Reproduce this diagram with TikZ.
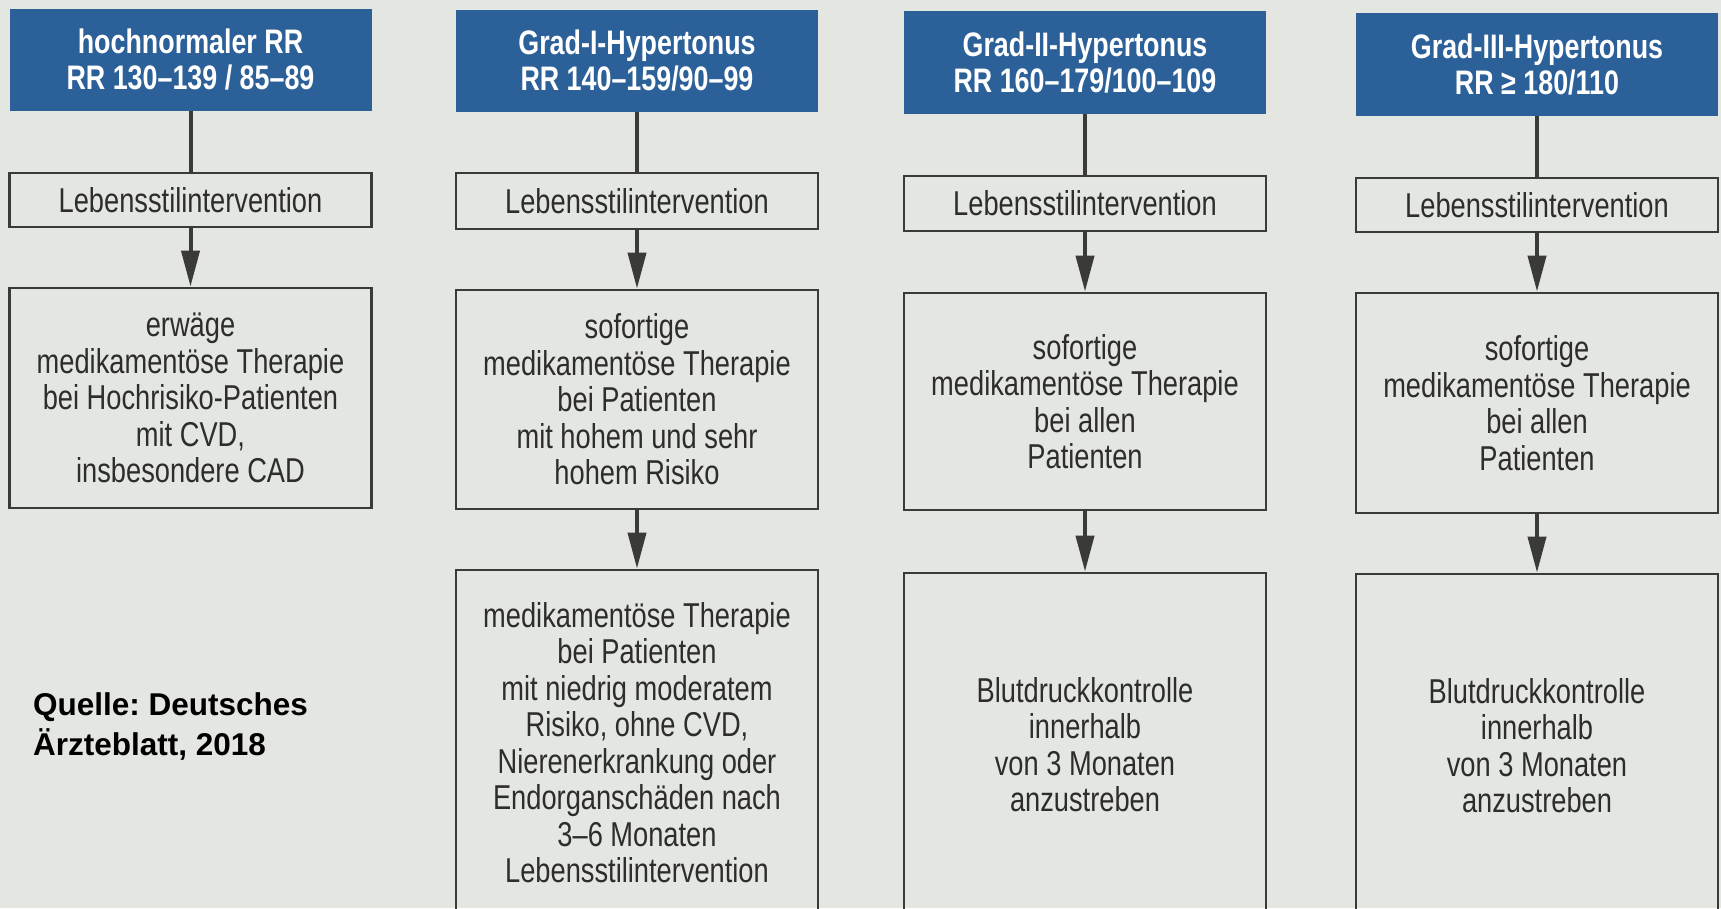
\documentclass[tikz,border=0pt]{standalone}
\usepackage{fontspec}
\setmainfont{Liberation Sans}[FakeStretch=0.79]
\newfontfamily\capfont{Liberation Sans}
\usetikzlibrary{arrows.meta}
\definecolor{hdrblue}{RGB}{44,96,152}
\definecolor{paper}{RGB}{227,230,225}
\definecolor{ink}{RGB}{58,58,54}
\definecolor{txt}{RGB}{45,45,42}
\tikzset{
  hdr/.style={fill=hdrblue, text=white, inner sep=0pt, minimum width=362pt, align=center,
    font=\fontsize{34}{36}\selectfont\bfseries},
  lbox/.style={draw=ink, line width=2.8pt, text=txt, inner sep=0pt, minimum width=362pt, align=center,
    font=\fontsize{34.5}{36.5}\selectfont},
  conn/.style={draw=ink, line width=4pt},
  arr/.style={draw=ink, line width=4pt, -{Triangle[length=36pt,width=18pt]}},
  srcnote/.style={text=black, inner sep=0pt, align=left, anchor=north west,
    font=\capfont\fontsize{31.5}{40}\selectfont\bfseries\frenchspacing}
}
\begin{document}
\begin{tikzpicture}[x=1pt,y=-1pt]
\useasboundingbox (0,0) rectangle (1721,908);
\clip (0,0) rectangle (1721,908);
\fill[paper] (0,0) rectangle (1721,908);

% column 1
\node[hdr, minimum height=102pt] (h1) at (190.5,60) {hochnormaler RR\\RR 130–139 / 85–89};
\node[lbox, minimum height=54pt] (l1) at (190.5,200) {Lebensstilintervention};
\node[lbox, minimum height=220pt] (b1) at (190.5,398) {erwäge\\medikamentöse Therapie\\bei Hochrisiko-Patienten\\mit CVD,\\insbesondere CAD};

% column 2
\node[hdr, minimum height=102pt] (h2) at (637,61) {Grad-I-Hypertonus\\RR 140–159/90–99};
\node[lbox, minimum height=56pt] (l2) at (637,201) {Lebensstilintervention};
\node[lbox, minimum height=219pt] (b2) at (637,399.5) {sofortige\\medikamentöse Therapie\\bei Patienten\\mit hohem und sehr\\hohem Risiko};
\node[lbox, minimum height=345pt] (d2) at (637,742.5) {medikamentöse Therapie\\bei Patienten\\mit niedrig moderatem\\Risiko, ohne CVD,\\Nierenerkrankung oder\\Endorganschäden nach\\3–6 Monaten\\Lebensstilintervention};

% column 3
\node[hdr, minimum height=103pt] (h3) at (1085,62.5) {Grad-II-Hypertonus\\RR 160–179/100–109};
\node[lbox, minimum height=55pt] (l3) at (1085,203.5) {Lebensstilintervention};
\node[lbox, minimum height=217pt] (b3) at (1085,401.5) {sofortige\\medikamentöse Therapie\\bei allen\\Patienten};
\node[lbox, minimum height=343pt] (d3) at (1085,744.5) {Blutdruckkontrolle\\innerhalb\\von 3 Monaten\\anzustreben};

% column 4
\node[hdr, minimum height=103pt] (h4) at (1537,64.5) {Grad-III-Hypertonus\\RR ≥ 180/110};
\node[lbox, minimum height=54pt] (l4) at (1537,205) {Lebensstilintervention};
\node[lbox, minimum height=220pt] (b4) at (1537,403) {sofortige\\medikamentöse Therapie\\bei allen\\Patienten};
\node[lbox, minimum height=343pt] (d4) at (1537,745.5) {Blutdruckkontrolle\\innerhalb\\von 3 Monaten\\anzustreben};

% connectors
\draw[conn] (h1) -- (l1);
\draw[conn] (h2) -- (l2);
\draw[conn] (h3) -- (l3);
\draw[conn] (h4) -- (l4);
\draw[arr] (l1) -- (b1);
\draw[arr] (l2) -- (b2);
\draw[arr] (l3) -- (b3);
\draw[arr] (l4) -- (b4);
\draw[arr] (b2) -- (d2);
\draw[arr] (b3) -- (d3);
\draw[arr] (b4) -- (d4);

% source
\node[srcnote] (src) at (33,692) {Quelle: Deutsches\\Ärzteblatt, 2018};
\end{tikzpicture}
\end{document}
